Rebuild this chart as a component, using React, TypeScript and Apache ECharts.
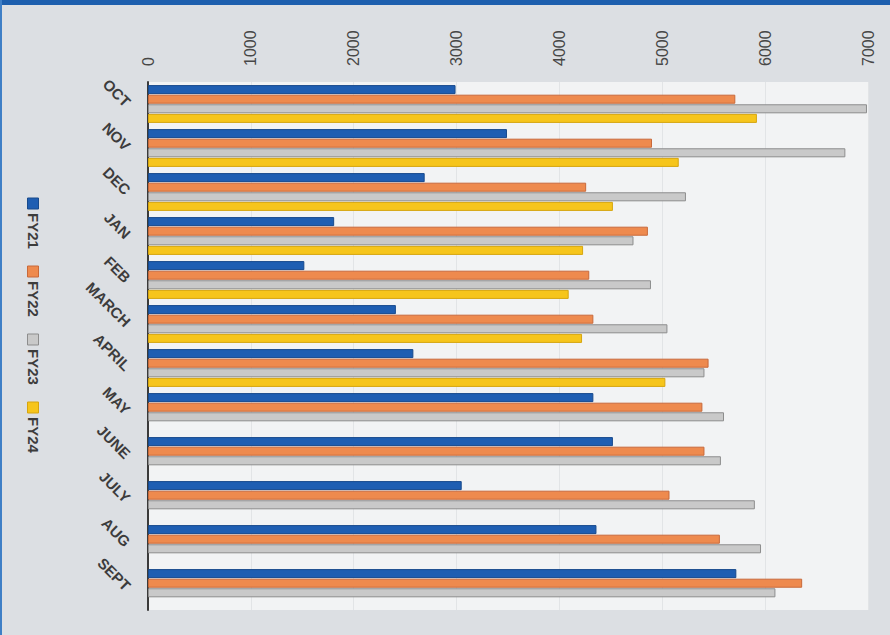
import React, { useEffect, useRef } from "react";
import * as echarts from "echarts";

// Monthly totals per fiscal year, October through September
const categories = ["OCT", "NOV", "DEC", "JAN", "FEB", "MARCH", "APRIL", "MAY", "JUNE", "JULY", "AUG", "SEPT"];
const seriesNames = ["FY21", "FY22", "FY23", "FY24"];
const fy21 = [2990, 3490, 2690, 1810, 1520, 2410, 2580, 4330, 4520, 3050, 4360, 5720];
const fy22 = [5710, 4900, 4260, 4860, 4290, 4330, 5450, 5390, 5410, 5070, 5560, 6360];
const fy23 = [6990, 6780, 5230, 4720, 4890, 5050, 5410, 5600, 5570, 5900, 5960, 6100];
const fy24 = [5920, 5160, 4520, 4230, 4090, 4220, 5030, null, null, null, null, null];
const valueMin = 0;
const valueMax = 7000;
const valueStep = 1000;

const fills = ["#1f5eb2", "#ee8a4e", "#c9c9c9", "#f6c51c"];
const edges = ["#184a8c", "#c8693a", "#8d8d8d", "#d6a510"];

export default function App() {
  const ref = useRef<HTMLDivElement>(null);

  useEffect(() => {
    document.body.style.margin = "0";
    if (!ref.current) return;
    const chart = echarts.init(ref.current, undefined, { renderer: "svg" });

    const allValues = [fy21, fy22, fy23, fy24];

    // Legend drawn as a rotated group so its text runs downward like the axis labels
    const legendChildren: any[] = [];
    seriesNames.forEach((name, i) => {
      const x0 = i * 68;
      legendChildren.push({
        type: "rect",
        shape: { x: x0, y: -5.5, width: 11, height: 11 },
        style: { fill: fills[i], stroke: edges[i], lineWidth: 1 },
      });
      legendChildren.push({
        type: "text",
        x: x0 + 15,
        y: 0,
        style: {
          text: name,
          fill: "#3c3c3c",
          font: "bold 15px 'Liberation Sans', Arial, sans-serif",
          verticalAlign: "middle",
          align: "left",
        },
      });
    });

    chart.setOption({
      animation: false,
      backgroundColor: "#dcdfe3",
      grid: {
        left: 148,
        right: 22,
        top: 82,
        bottom: 25,
        show: true,
        backgroundColor: "#f2f3f4",
        borderWidth: 0,
      },
      xAxis: {
        type: "value",
        position: "top",
        min: valueMin,
        max: valueMax,
        interval: valueStep,
        axisLine: { show: false },
        axisTick: { show: false },
        splitLine: { show: true, lineStyle: { color: "#e2e4e6", width: 1 } },
        axisLabel: {
          rotate: -90,
          margin: 16,
          color: "#474747",
          fontSize: 16,
          fontFamily: "'Liberation Sans', Arial, sans-serif",
          formatter: (v: number) => String(v),
        },
      },
      yAxis: {
        type: "category",
        data: categories,
        inverse: true,
        axisLine: { show: true, lineStyle: { color: "#3a3a3a", width: 2 } },
        axisTick: { show: false },
        axisLabel: {
          rotate: -45,
          margin: 20,
          color: "#3c3c3c",
          fontSize: 15,
          fontWeight: "bold",
          fontFamily: "'Liberation Sans', Arial, sans-serif",
        },
      },
      graphic: [
        {
          type: "rect",
          shape: { x: 0, y: 0, width: 890, height: 5 },
          style: { fill: "#1d5fae" },
          z: 100,
        },
        {
          type: "rect",
          shape: { x: 0, y: 0, width: 2, height: 635 },
          style: { fill: "#3f7fc6" },
          z: 100,
        },
        {
          type: "group",
          x: 33,
          y: 198,
          rotation: -Math.PI / 2,
          children: legendChildren,
        },
      ],
      series: seriesNames.map((name, i) => ({
        name,
        type: "bar",
        data: allValues[i],
        barGap: "6%",
        barCategoryGap: "14%",
        itemStyle: { color: fills[i], borderColor: edges[i], borderWidth: 1 },
      })),
    });

    return () => chart.dispose();
  }, []);

  return <div ref={ref} style={{ width: 890, height: 635 }} />;
}
